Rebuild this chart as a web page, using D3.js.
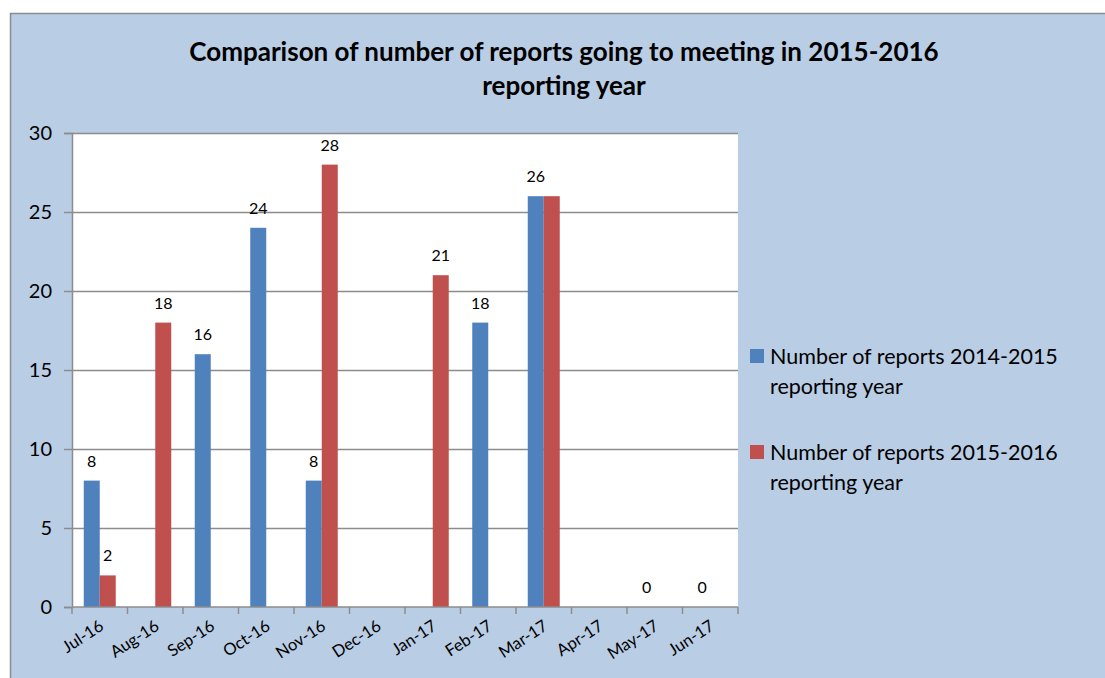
<!DOCTYPE html>
<html>
<head>
<meta charset="utf-8">
<script src="https://cdn.jsdelivr.net/npm/d3@7"></script>
<style>
  body { margin: 0; background: #ffffff; }
  svg { display: block; font-family: Lato, "Open Sans", sans-serif; }
</style>
</head>
<body>
<div id="chart"></div>
<script>
// Chart data
const categories = ["Jul-16", "Aug-16", "Sep-16", "Oct-16", "Nov-16", "Dec-16",
                    "Jan-17", "Feb-17", "Mar-17", "Apr-17", "May-17", "Jun-17"];
const reports2014 = [8, null, 16, 24, 8, null, null, 18, 26, null, 0, 0];
const reports2015 = [2, 18, null, null, 28, null, 21, null, 26, null, null, null];
// labels that the original chart does not show (series index, category)
const hiddenLabels = [[1, "Mar-17"]];
const seriesNames = ["Number of reports 2014-2015 reporting year",
                     "Number of reports 2015-2016 reporting year"];
const yTicks = [0, 5, 10, 15, 20, 25, 30];
const titleLines = ["Comparison of number of reports going to meeting in 2015-2016",
                    "reporting year"];

const W = 1105, H = 678;
const plot = {left: 72, top: 133, right: 738, bottom: 607};
const colors = ["#4f81bd", "#c0504d"];

const svg = d3.select("#chart").append("svg")
    .attr("width", W)
    .attr("height", H);

// outer chart area
svg.append("rect")
    .attr("x", 10.5).attr("y", 13.5)
    .attr("width", W).attr("height", H)
    .attr("fill", "#b9cde5")
    .attr("stroke", "#8c8c8c")
    .attr("stroke-width", 1.5);

// title
svg.append("text")
    .attr("x", 564)
    .attr("y", 61)
    .attr("text-anchor", "middle")
    .style("font-size", "26px")
    .style("font-weight", "bold")
    .selectAll("tspan")
    .data(titleLines)
    .join("tspan")
    .attr("x", 564)
    .attr("dy", (d, i) => i === 0 ? 0 : 34)
    .text(d => d);

// scales
const x0 = d3.scaleBand().domain(categories).range([plot.left, plot.right]);
const x1 = d3.scaleBand().domain([0, 1])
    .range([x0.bandwidth() / 2 - 16, x0.bandwidth() / 2 + 16]);
const y = d3.scaleLinear().domain([0, 30]).range([plot.bottom, plot.top]);

// plot area
svg.append("rect")
    .attr("x", plot.left).attr("y", plot.top)
    .attr("width", plot.right - plot.left)
    .attr("height", plot.bottom - plot.top)
    .attr("fill", "#ffffff");

// gridlines
svg.append("g")
    .selectAll("line")
    .data(yTicks.filter(d => d > 0))
    .join("line")
    .attr("x1", plot.left).attr("x2", plot.right)
    .attr("y1", d => Math.round(y(d)) + 0.5)
    .attr("y2", d => Math.round(y(d)) + 0.5)
    .attr("stroke", "#8c8c8c")
    .attr("stroke-width", 1.5);

// bars
const seriesData = [reports2014, reports2015];
seriesData.forEach((values, s) => {
    const rows = categories.map((c, i) => ({cat: c, value: values[i]}))
        .filter(d => d.value !== null);

    svg.append("g")
        .selectAll("rect")
        .data(rows)
        .join("rect")
        .attr("x", d => x0(d.cat) + x1(s))
        .attr("y", d => y(d.value))
        .attr("width", x1.bandwidth())
        .attr("height", d => y(0) - y(d.value))
        .attr("fill", colors[s]);

    // data labels
    const shown = rows.filter(d => !hiddenLabels.some(h => h[0] === s && h[1] === d.cat));
    svg.append("g")
        .selectAll("text")
        .data(shown)
        .join("text")
        .attr("x", d => x0(d.cat) + x1(s) + x1.bandwidth() / 2)
        .attr("y", d => y(d.value) - 14)
        .attr("text-anchor", "middle")
        .style("font-size", "16px")
        .attr("fill", "#000")
        .text(d => d.value);
});

// y axis
const yAxis = svg.append("g")
    .attr("transform", `translate(${plot.left},0)`)
    .call(d3.axisLeft(y).tickValues(yTicks).tickSize(8).tickPadding(12));
yAxis.selectAll("text").style("font-size", "20px").attr("fill", "#000").style("font-family", "Lato, sans-serif");
yAxis.selectAll("line,path").attr("stroke", "#8c8c8c").attr("stroke-width", 1.5);

// x axis, ticks between categories
const xAxis = svg.append("g")
    .attr("transform", `translate(0,${plot.bottom})`);
xAxis.append("line")
    .attr("x1", plot.left).attr("x2", plot.right)
    .attr("stroke", "#8c8c8c").attr("stroke-width", 1.5);
xAxis.selectAll(".tick")
    .data(categories.map(c => x0(c)).concat([plot.right]))
    .join("line")
    .attr("class", "tick")
    .attr("x1", d => d).attr("x2", d => d)
    .attr("y1", 0).attr("y2", 7)
    .attr("stroke", "#8c8c8c").attr("stroke-width", 1.5);
xAxis.selectAll("text")
    .data(categories)
    .join("text")
    .attr("transform", d => `translate(${x0(d) + x0.bandwidth() / 2 + 2},${17}) rotate(-33)`)
    .attr("text-anchor", "end")
    .attr("dy", "0.35em")
    .style("font-size", "16.5px")
    .attr("fill", "#000")
    .text(d => d);

// legend
const legend = svg.append("g");
const legendItems = seriesNames.map((name, i) => ({
    color: colors[i],
    lines: [name.split(" reporting")[0], "reporting year"],
    top: 349 + i * 96
}));
legend.selectAll("rect")
    .data(legendItems)
    .join("rect")
    .attr("x", 750)
    .attr("y", d => d.top)
    .attr("width", 14)
    .attr("height", 14)
    .attr("fill", d => d.color);
legend.selectAll("text")
    .data(legendItems)
    .join("text")
    .attr("x", 770)
    .attr("y", d => d.top + 15)
    .style("font-size", "21.5px")
    .attr("fill", "#000")
    .selectAll("tspan")
    .data(d => d.lines)
    .join("tspan")
    .attr("x", 770)
    .attr("dy", (d, i) => i === 0 ? 0 : 30)
    .text(d => d);
</script>
</body>
</html>
